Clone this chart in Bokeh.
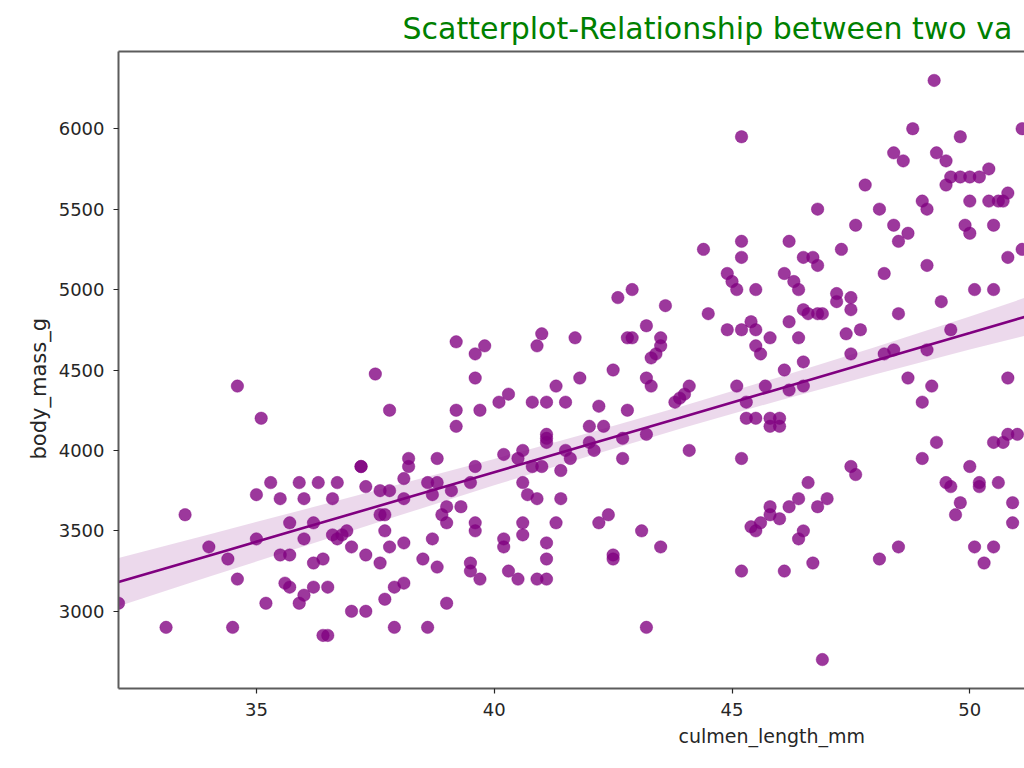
from bokeh.plotting import figure
from bokeh.models import Range1d, LinearAxis, FixedTicker, Title
from bokeh.embed import file_html
from bokeh.resources import INLINE

# ---------------- data ----------------
culmen_length_mm = [
    37.5, 39.6, 34.6, 35.1, 37.8, 39.2, 39.2, 39.7, 40.1, 40.3, 40.8, 41.1, 41.1, 40.2, 40.6, 40.5,
    40.8, 41.0, 39.6, 39.5, 40.6, 40.7, 40.9, 40.6, 40.6, 41.1, 41.1, 40.9, 41.1, 40.2, 40.2, 40.3,
    40.5, 39.5, 39.5, 39.7, 39.6, 39.6, 39.3, 39.0, 38.9, 39.0, 39.1, 38.8, 38.6, 38.7, 38.8, 38.2,
    38.2, 38.1, 38.1, 37.8, 37.6, 37.3, 37.2, 37.6, 37.7, 37.7, 37.8, 37.6, 37.3, 37.0, 38.1, 38.7,
    38.5, 38.8, 39.0, 37.9, 38.1, 37.7, 37.9, 38.6, 37.3, 37.0, 36.5, 36.4, 36.5, 36.2, 36.0, 35.9,
    35.7, 35.6, 36.2, 36.4, 35.5, 35.7, 35.2, 34.6, 34.4, 34.0, 33.5, 33.1, 34.5, 32.1, 35.0, 35.0,
    35.3, 35.5, 35.9, 36.0, 36.3, 36.7, 36.6, 35.7, 36.2, 36.0, 36.6, 36.7, 36.9, 36.8, 37.2,
    39.2, 39.8, 39.6, 41.0, 40.9,
    49.25, 45.2, 48.8, 49.8, 51.1, 48.4, 48.6, 49.3, 49.5, 50.4, 49.6, 49.8, 50.0, 50.2, 49.5, 47.8,
    49.0, 49.1, 50.0, 50.4, 50.6, 50.7, 50.8, 46.8, 48.1, 47.6, 48.4, 48.7, 48.5, 49.9, 50.0, 50.5,
    51.1, 50.8, 49.1, 48.2, 47.3, 46.2, 46.5, 46.7, 46.8, 46.1, 46.3, 46.4, 45.2, 45.2, 44.4, 44.9,
    45.0, 45.1, 45.5, 47.2, 47.2, 47.5, 47.5, 49.4, 50.1, 50.5, 42.6, 42.9, 43.6, 43.2, 42.8, 42.9,
    41.7, 43.5, 43.5, 43.4, 43.3, 42.5, 41.8, 43.2, 44.5, 44.9, 45.2, 45.4, 45.5, 45.8, 45.5, 45.6,
    46.2, 46.4, 46.5, 46.6, 46.8, 46.9, 46.5, 46.1, 47.4, 47.7, 47.5, 48.5, 48.2, 48.4, 49.1, 49.6,
    48.7, 50.8,
    41.3, 43.3, 41.5, 42.2, 42.8, 43.8, 43.9, 44.0, 44.1, 45.1, 45.7, 45.3, 46.2, 46.5, 45.3, 45.5,
    45.8, 46.0, 45.8, 46.0, 41.1, 41.1, 42.0, 42.3, 42.7, 43.2, 42.0, 42.1, 41.5, 41.6, 41.4, 42.7,
    44.1, 45.2, 49.2, 49.0, 49.3, 49.0, 50.5, 50.7, 50.8, 51.0, 50.0, 49.5, 49.6, 50.2, 50.2, 50.6,
    50.9, 50.9, 49.8, 49.7, 50.1, 50.5, 50.3, 48.5, 48.1, 47.5, 47.6, 46.6, 46.4, 46.2, 46.8, 47.0,
    45.8, 45.8, 46.0, 45.4, 45.5, 45.6, 46.5, 46.4, 46.7, 45.2, 46.1, 46.9, 43.2, 42.5, 42.5, 43.1,
    43.5, 42.2, 42.4, 41.3, 41.4,
]
body_mass_g = [
    4475, 4450, 4400, 4200, 4250, 4250, 4150, 4250, 4300, 4350, 4300, 4300, 4075, 3975, 4000, 3950,
    3900, 3900, 3900, 3800, 3800, 3725, 3700, 3550, 3475, 3425, 3325, 3200, 3200, 3450, 3400, 3250,
    3200, 3300, 3250, 3200, 3550, 3500, 3650, 3650, 3600, 3550, 3750, 3800, 3800, 3725, 3950, 3950,
    3900, 3825, 3700, 3750, 3750, 3775, 3900, 3600, 3600, 3500, 3400, 3300, 3350, 3400, 3425, 3450,
    3325, 3275, 3050, 3150, 3175, 3075, 2900, 2900, 3000, 3000, 2850, 2850, 3150, 3150, 3100, 3050,
    3150, 3175, 3300, 3325, 3350, 3350, 3050, 3200, 3325, 3400, 3600, 2900, 2900, 3050, 3450, 3725,
    3800, 3700, 3800, 3700, 3800, 3800, 3700, 3550, 3550, 3450, 3475, 3450, 3500, 3475, 3900,
    4675, 4650, 4600, 4725, 4650,
    6300, 5950, 6000, 5950, 6000, 5850, 5800, 5850, 5800, 5750, 5700, 5700, 5700, 5700, 5650, 5650,
    5550, 5500, 5550, 5550, 5550, 5550, 5600, 5500, 5500, 5400, 5400, 5350, 5300, 5400, 5350, 5400,
    5250, 5200, 5150, 5100, 5250, 5300, 5200, 5200, 5150, 5100, 5050, 5000, 5300, 5200, 5250, 5100,
    5050, 5000, 5000, 4975, 4925, 4950, 4875, 4925, 5000, 5000, 4950, 5000, 4900, 4775, 4700, 4700,
    4700, 4700, 4650, 4600, 4575, 4500, 4450, 4450, 4850, 4750, 4750, 4800, 4750, 4700, 4650, 4600,
    4800, 4700, 4875, 4850, 4850, 4850, 4550, 4500, 4725, 4750, 4600, 4850, 4600, 4625, 4625, 4750,
    4450, 4450,
    4400, 4400, 4300, 4275, 4250, 4300, 4325, 4350, 4400, 4400, 4400, 4300, 4375, 4400, 4200, 4200,
    4200, 4200, 4150, 4150, 4100, 4050, 4150, 4150, 4075, 4100, 4050, 4000, 4000, 3950, 3875, 3950,
    4000, 3950, 4400, 4300, 4050, 3950, 4050, 4050, 4100, 4100, 3900, 3800, 3775, 3800, 3775, 3800,
    3675, 3550, 3675, 3600, 3400, 3400, 3300, 3400, 3325, 3900, 3850, 3800, 3700, 3650, 3650, 3700,
    3650, 3600, 3575, 3525, 3500, 3550, 3500, 3450, 3300, 3250, 3250, 2700, 2900, 3350, 3325, 3500,
    3400, 3550, 3600, 3550, 3700,
]
# regression line and its confidence band
reg_x = [32.1, 34, 36, 38, 40, 42, 44, 46, 48, 50, 51.15]
reg_y = [3182, 3346, 3519, 3692, 3865, 4038, 4211, 4384, 4557, 4730, 4830]
band_lower = [3032, 3214, 3405, 3595, 3783, 3966, 4142, 4311, 4472, 4627, 4712]
band_upper = [3332, 3478, 3633, 3789, 3947, 4110, 4280, 4457, 4642, 4833, 4948]

x_ticks = [35, 40, 45, 50]
y_ticks = [3000, 3500, 4000, 4500, 5000, 5500, 6000]
title_text = "Scatterplot-Relationship between two va"   # the part that is visible
x_label = "culmen_length_mm"
y_label = "body_mass_g"

FONT = "DejaVu Sans"
PURPLE = "purple"
SPINE = "#5c5c5c"
TEXT = "#262626"

p = figure(width=1024, height=768,
           x_range=Range1d(32.1, 51.15), y_range=Range1d(2520, 6480),
           output_backend="svg", toolbar_location=None,
           min_border_left=118, min_border_right=0,
           min_border_top=51, min_border_bottom=80,
           background_fill_color="white", border_fill_color="white")
p.xgrid.visible = False
p.ygrid.visible = False
p.outline_line_color = None

p.varea(x=reg_x, y1=band_lower, y2=band_upper, fill_color=PURPLE, fill_alpha=0.15)
p.scatter(culmen_length_mm, body_mass_g, size=12.5, fill_color=PURPLE, fill_alpha=0.78,
          line_color=PURPLE, line_alpha=0.78, line_width=0.5)
p.line(reg_x, reg_y, line_color=PURPLE, line_width=2.6)

# axes
for ax in (p.xaxis[0], p.yaxis[0]):
    ax.axis_line_color = SPINE
    ax.axis_line_width = 2
    ax.major_tick_line_color = TEXT
    ax.major_tick_line_width = 1.2
    ax.major_tick_out = 5
    ax.major_tick_in = 0
    ax.minor_tick_line_color = None
    ax.major_label_text_font = FONT
    ax.major_label_text_font_size = "18px"
    ax.major_label_text_color = TEXT
p.xaxis.ticker = FixedTicker(ticks=x_ticks)
p.yaxis.ticker = FixedTicker(ticks=y_ticks)
p.xaxis.major_label_standoff = 9
p.yaxis.major_label_standoff = 9

top = LinearAxis(ticker=FixedTicker(ticks=[]), axis_line_color=SPINE, axis_line_width=2,
                 major_tick_line_color=None, minor_tick_line_color=None,
                 major_label_text_alpha=0)
p.add_layout(top, "above")

# axis labels, placed as in the reference (the axes there continue past the right edge)
p.add_layout(Title(text=x_label, align="left", offset=560, standoff=8,
                   text_font=FONT, text_font_size="19px", text_font_style="normal",
                   text_color=TEXT), "below")
p.add_layout(Title(text=y_label, align="left", offset=229, standoff=10,
                   text_font=FONT, text_font_size="21px", text_font_style="normal",
                   text_color=TEXT), "left")

p.title.text = title_text
p.title.align = "left"
p.title.offset = 284
p.title.standoff = 11
p.title.text_font = FONT
p.title.text_font_size = "30px"
p.title.text_font_style = "normal"
p.title.text_color = "green"

open("out.html", "w").write(file_html(p, INLINE))
